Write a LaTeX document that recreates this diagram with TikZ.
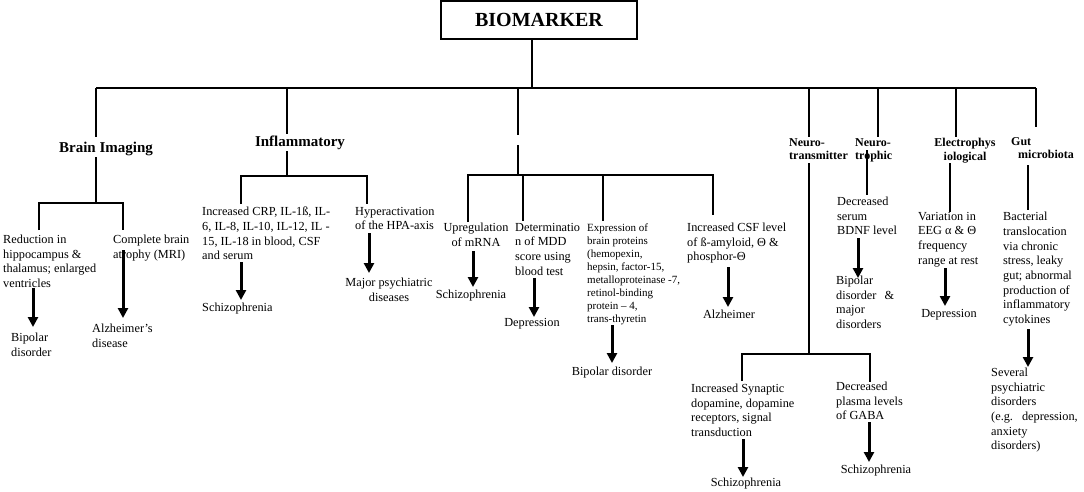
\documentclass[tikz,border=0pt]{standalone}
\usepackage{fontspec}
\setmainfont{Liberation Serif}
\usetikzlibrary{arrows.meta}
\begin{document}
\begin{tikzpicture}[x=1pt,y=-1pt,
  tree/.style={line width=2.6pt, line join=miter},
  thinline/.style={line width=1.1pt},
  arr/.style={line width=3pt,-{Triangle[width=10pt,length=10pt]}},
  txt/.style={font=\fontsize{12.3}{14.6}\selectfont, align=left, anchor=north west, inner sep=0pt},
  ctxt/.style={font=\fontsize{12.3}{14.6}\selectfont, align=center, anchor=north, inner sep=0pt},
  smalltxt/.style={font=\fontsize{11}{13}\selectfont, align=left, anchor=north west, inner sep=0pt},
  lab/.style={font=\bfseries\fontsize{12}{13.5}\selectfont, align=left, anchor=north west, inner sep=0pt},
  biglab/.style={font=\bfseries\fontsize{15}{17}\selectfont, inner sep=0pt}
]
\useasboundingbox (0,0) rectangle (1084,491);

% root
\node[draw, line width=1.2pt, minimum width=196pt, minimum height=38pt, inner sep=0pt,
      font=\bfseries\fontsize{20}{22}\selectfont] (bio) at (539,20) {BIOMARKER};
\coordinate (jb) at (532,88);
\coordinate (barL) at (96,88);
\coordinate (barR) at (1036,88);
\draw[tree] (bio.south -| jb) -- (jb);
\draw[tree] (barL) -- (barR);

% ---------- Brain imaging ----------
\node[biglab] (bi) at (106,149) {Brain Imaging};
\coordinate (bi1) at (96,137);
\coordinate (bi2) at (96,157);
\coordinate (bi3) at (96,203);
\coordinate (bil) at (39,203);
\coordinate (bir) at (123,203);
\coordinate (bild) at (39,230);
\coordinate (bird) at (123,230);
\draw[tree] (barL) -- (bi1);
\draw[tree] (bi2) -- (bi3);
\draw[tree] (bild) -- (bil) -- (bir) -- (bird);
\node[txt] (red) at (3,235) {Reduction in\\hippocampus \&\\thalamus; enlarged\\ventricles};
\node[txt] (bip1) at (11,333) {Bipolar\\disorder};
\node[txt] (cbr) at (113,235) {Complete brain\\atrophy (MRI)};
\node[txt] (alz1) at (92,324) {Alzheimer’s\\disease};
\coordinate (a1s) at (33,288); \coordinate (a1e) at (33,327);
\coordinate (a2s) at (123,250); \coordinate (a2e) at (123,318);
\draw[arr] (a1s) -- (a1e);
\draw[arr] (a2s) -- (a2e);

% ---------- Inflammatory ----------
\node[biglab] (inf) at (300,143) {Inflammatory};
\coordinate (in0) at (287,88);
\coordinate (in1) at (287,134);
\coordinate (in2) at (287,151);
\coordinate (in3) at (287,176);
\coordinate (inl) at (241,176);
\coordinate (inr) at (367,176);
\coordinate (inld) at (241,204);
\coordinate (inrd) at (367,204);
\draw[tree] (in0) -- (in1);
\draw[tree] (in2) -- (in3);
\draw[tree] (inld) -- (inl) -- (inr) -- (inrd);
\node[txt] (crp) at (202,207) {Increased CRP, IL-1ß, IL-\\6, IL-8, IL-10, IL-12, IL -\\15, IL-18 in blood, CSF\\and serum};
\node[txt] (sch1) at (202,303) {Schizophrenia};
\node[txt] (hpa) at (355,207) {Hyperactivation\\of the HPA-axis};
\node[ctxt] (maj) at (389,278) {Major psychiatric\\diseases};
\coordinate (a3s) at (241,262); \coordinate (a3e) at (241,300);
\coordinate (a4s) at (369,233); \coordinate (a4e) at (369,273);
\draw[arr] (a3s) -- (a3e);
\draw[arr] (a4s) -- (a4e);

% ---------- Middle (unlabelled) ----------
\coordinate (m0) at (518,88);
\coordinate (m1) at (518,135);
\coordinate (m2) at (518,145);
\coordinate (m3) at (518,175);
\coordinate (ml) at (468,175);
\coordinate (mr) at (713,175);
\coordinate (mld) at (468,222);
\coordinate (mrd) at (713,215);
\coordinate (mb) at (523,175); \coordinate (mbd) at (523,221);
\coordinate (mc) at (603,175); \coordinate (mcd) at (603,221);
\draw[tree] (m0) -- (m1);
\draw[tree] (m2) -- (m3);
\draw[tree] (mld) -- (ml) -- (mr) -- (mrd);
\draw[tree] (mb) -- (mbd);
\draw[tree] (mc) -- (mcd);
\node[ctxt] (up) at (476,223) {Upregulation\\of mRNA};
\node[ctxt] (sch2) at (471,290) {Schizophrenia};
\node[txt] (det) at (515,223) {Determinatio\\n of MDD\\score using\\blood test};
\node[ctxt] (dep1) at (532,318) {Depression};
\node[smalltxt] (exp) at (587,223.5) {Expression of\\brain proteins\\(hemopexin,\\hepsin, factor-15,\\metalloproteinase -7,\\retinol-binding\\protein – 4,\\trans-thyretin};
\node[ctxt] (bip2) at (612,367) {Bipolar disorder};
\node[txt] (csf) at (687,223) {Increased CSF level\\of ß-amyloid, Θ \&\\phosphor-Θ};
\node[ctxt] (alz2) at (729,310) {Alzheimer};
\coordinate (a5s) at (473,251); \coordinate (a5e) at (473,287);
\coordinate (a6s) at (534,278); \coordinate (a6e) at (534,317);
\coordinate (a7s) at (612,325); \coordinate (a7e) at (612,363);
\coordinate (a8s) at (728,267); \coordinate (a8e) at (728,307);
\draw[arr] (a5s) -- (a5e);
\draw[arr] (a6s) -- (a6e);
\draw[arr] (a7s) -- (a7e);
\draw[arr] (a8s) -- (a8e);

% ---------- Neurotransmitter ----------
\node[lab] (nt) at (789,138) {Neuro-\\transmitter};
\coordinate (nt0) at (809,88);
\coordinate (nt1) at (809,137);
\coordinate (nt2) at (809,163);
\coordinate (nt3) at (809,354);
\coordinate (ntl) at (742,354);
\coordinate (ntr) at (870,354);
\coordinate (ntld) at (742,381);
\coordinate (ntrd) at (870,382);
\draw[tree] (nt0) -- (nt1);
\draw[tree] (nt2) -- (nt3);
\draw[tree] (ntld) -- (ntl) -- (ntr) -- (ntrd);
\node[txt] (syn) at (691,384) {Increased Synaptic\\dopamine, dopamine\\receptors, signal\\transduction};
\node[ctxt] (sch3) at (746,478) {Schizophrenia};
\node[txt] (gaba) at (836,382) {Decreased\\plasma levels\\of GABA};
\node[ctxt] (sch4) at (876,465) {Schizophrenia};
\coordinate (a9s) at (743,439); \coordinate (a9e) at (743,477);
\coordinate (a10s) at (869,422); \coordinate (a10e) at (869,462);
\draw[arr] (a9s) -- (a9e);
\draw[arr] (a10s) -- (a10e);

% ---------- Neurotrophic ----------
\node[lab] (ntr) at (855,138) {Neuro-\\trophic};
\coordinate (tr0) at (878,88);
\coordinate (tr1) at (878,137);
\coordinate (tr2) at (867,150);
\coordinate (tr3) at (867,195);
\draw[tree] (tr0) -- (tr1);
\draw[thinline] (tr2) -- (tr3);
\node[txt] (bdnf) at (837,197) {Decreased\\serum\\BDNF level};
\node[txt] (bip3) at (836,276) {Bipolar\\disorder\hspace{8pt}\&\\major\\disorders};
\coordinate (a11s) at (858,238); \coordinate (a11e) at (858,278);
\draw[arr] (a11s) -- (a11e);

% ---------- Electrophysiological ----------
\node[lab, align=center, anchor=north] (ep) at (965,138) {Electrophys\\iological};
\coordinate (ep0) at (956,88);
\coordinate (ep1) at (956,137);
\coordinate (ep2) at (950,163);
\coordinate (ep3) at (950,212);
\draw[tree] (ep0) -- (ep1);
\draw[tree] (ep2) -- (ep3);
\node[txt] (eeg) at (918,212) {Variation in\\EEG α \& Θ\\frequency\\range at rest};
\node[ctxt] (dep2) at (949,309) {Depression};
\coordinate (a12s) at (945,268); \coordinate (a12e) at (945,306);
\draw[arr] (a12s) -- (a12e);

% ---------- Gut microbiota ----------
\node[lab] (gut) at (1011,137) {Gut\\\hspace*{7pt}microbiota};
\coordinate (g1) at (1036,127);
\coordinate (g2) at (1028,165);
\coordinate (g3) at (1028,210);
\draw[tree] (barR) -- (g1);
\draw[tree] (g2) -- (g3);
\node[txt, font=\fontsize{12.3}{14.7}\selectfont] (bac) at (1003,212) {Bacterial\\translocation\\via chronic\\stress, leaky\\gut; abnormal\\production of\\inflammatory\\cytokines};
\node[txt] (sev) at (991,368) {Several\\psychiatric\\disorders\\(e.g.\hspace{9pt}depression,\\anxiety\\disorders)};
\coordinate (a13s) at (1028,329); \coordinate (a13e) at (1028,367);
\draw[arr] (a13s) -- (a13e);
\end{tikzpicture}
\end{document}
